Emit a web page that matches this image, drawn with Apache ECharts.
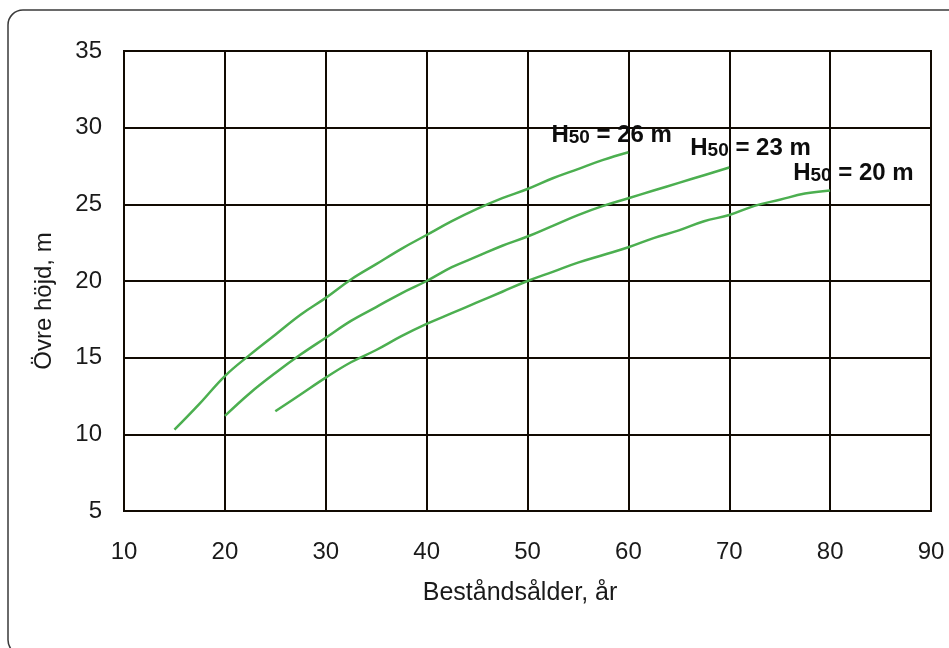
<!DOCTYPE html>
<html>
<head>
<meta charset="utf-8">
<script src="https://cdn.jsdelivr.net/npm/echarts@6/dist/echarts.min.js"></script>
<style>
html,body{margin:0;padding:0;background:#fff;}
#c{width:949px;height:648px;}
</style>
</head>
<body>
<div id="c"></div>
<script>
// Data
const xTicks = [10, 20, 30, 40, 50, 60, 70, 80, 90];
const yTicks = [5, 10, 15, 20, 25, 30, 35];

const age26 = [15, 17.5, 20, 22.5, 25, 27.5, 30, 32.5, 35, 37.5, 40, 42.5, 45, 47.5, 50, 52.5, 55, 57.5, 60];
const h26   = [10.3, 12.0, 13.8, 15.2, 16.5, 17.8, 18.9, 20.1, 21.1, 22.1, 23.0, 23.9, 24.7, 25.4, 26.0, 26.7, 27.3, 27.9, 28.4];

const age23 = [20, 22.5, 25, 27.5, 30, 32.5, 35, 37.5, 40, 42.5, 45, 47.5, 50, 52.5, 55, 57.5, 60, 62.5, 65, 67.5, 70];
const h23   = [11.2, 12.7, 14.0, 15.2, 16.3, 17.4, 18.3, 19.2, 20.0, 20.9, 21.6, 22.3, 22.9, 23.6, 24.3, 24.9, 25.4, 25.9, 26.4, 26.9, 27.4];

const age20 = [25, 27.5, 30, 32.5, 35, 37.5, 40, 42.5, 45, 47.5, 50, 52.5, 55, 57.5, 60, 62.5, 65, 67.5, 70, 72.5, 75, 77.5, 80];
const h20   = [11.5, 12.6, 13.7, 14.7, 15.5, 16.4, 17.2, 17.9, 18.6, 19.3, 20.0, 20.6, 21.2, 21.7, 22.2, 22.8, 23.3, 23.9, 24.3, 24.9, 25.3, 25.7, 25.9];

const curveNames = ['26', '23', '20'];
const xName = 'Beståndsålder, år';
const yName = 'Övre höjd, m';

const GREEN = '#4caf50';
const INK = '#110a02';
const FONT = '"Liberation Sans", Arial, sans-serif';

const seriesDefs = [
  {ages: age26, hs: h26, name: curveNames[0], offset: [-77, -17]},
  {ages: age23, hs: h23, name: curveNames[1], offset: [-39, -19]},
  {ages: age20, hs: h20, name: curveNames[2], offset: [-37, -17]}
];

const chart = echarts.init(document.getElementById('c'), null, {renderer: 'canvas'});
chart.setOption({
  backgroundColor: '#ffffff',
  animation: false,
  graphic: [{
    type: 'rect',
    shape: {x: 8, y: 10, width: 980, height: 645, r: 15},
    style: {fill: 'none', stroke: '#3a3a3a', lineWidth: 1.5},
    z: 0,
    silent: true
  }],
  grid: {
    left: 124, right: 18, top: 51, bottom: 137,
    show: true, borderColor: INK, borderWidth: 2,
    containLabel: false
  },
  xAxis: {
    type: 'value',
    min: xTicks[0], max: xTicks[xTicks.length - 1], interval: 10,
    name: xName,
    nameLocation: 'middle',
    nameGap: 70,
    nameTextStyle: {fontFamily: FONT, fontSize: 25, color: '#1a1a1a', padding: [0, 15, 0, 0]},
    axisLine: {show: true, lineStyle: {color: INK, width: 2}},
    axisTick: {show: false},
    axisLabel: {fontFamily: FONT, fontSize: 24, color: '#1a1a1a', margin: 29},
    splitLine: {show: true, lineStyle: {color: INK, width: 2}}
  },
  yAxis: {
    type: 'value',
    min: yTicks[0], max: yTicks[yTicks.length - 1], interval: 5,
    name: yName,
    nameLocation: 'middle',
    nameGap: 68,
    nameRotate: 90,
    nameTextStyle: {fontFamily: FONT, fontSize: 24, color: '#1a1a1a', padding: [0, 40, 0, 0]},
    axisLine: {show: true, lineStyle: {color: INK, width: 2}},
    axisTick: {show: false},
    axisLabel: {fontFamily: FONT, fontSize: 24, color: '#1a1a1a', margin: 22},
    splitLine: {show: true, lineStyle: {color: INK, width: 2}}
  },
  series: seriesDefs.map(d => ({
    type: 'line',
    name: 'H50 = ' + d.name + ' m',
    data: d.ages.map((a, i) => [a, d.hs[i]]),
    smooth: 0.4,
    showSymbol: false,
    symbol: 'none',
    lineStyle: {color: GREEN, width: 2.5},
    itemStyle: {color: GREEN},
    z: 3,
    endLabel: {
      show: true,
      distance: 0,
      align: 'left',
      verticalAlign: 'middle',
      offset: d.offset,
      formatter: '{h|H}{s|50}{h| = ' + d.name + ' m}',
      rich: {
        h: {fontFamily: FONT, fontSize: 24, fontWeight: 'bold', color: '#0d0d0d', lineHeight: 24},
        s: {fontFamily: FONT, fontSize: 19, fontWeight: 'bold', color: '#0d0d0d', lineHeight: 18, verticalAlign: 'bottom'}
      }
    }
  }))
});
</script>
</body>
</html>
